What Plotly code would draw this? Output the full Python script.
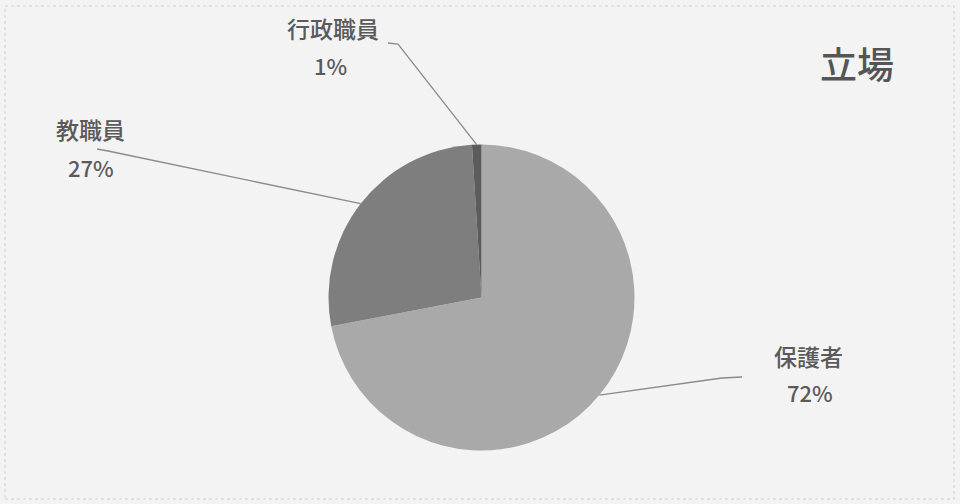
import math
import plotly.graph_objects as go

labels = ["保護者", "教職員", "行政職員"]
values = [72, 27, 1]
colors = ["#a9a9a9", "#7e7e7e", "#5c5c5c"]
title_text = "立場"

W, H = 960, 504
cx, cy, r = 481.5, 297.5, 153.0

def px(x):
    return x / W

def py(y):
    return 1 - y / H

fig = go.Figure(go.Pie(
    labels=labels,
    values=values,
    sort=False,
    direction="clockwise",
    rotation=0,
    marker=dict(colors=colors, line=dict(width=0)),
    textinfo="none",
    hoverinfo="label+percent",
    showlegend=False,
    domain=dict(x=[px(cx - r), px(cx + r)], y=[py(cy + r), py(cy - r)]),
))

# label text positions and leader line outer points (layout)
label_pos = {
    "保護者": ((808, 356), (810, 392), [(742, 377), (722, 378)]),
    "教職員": ((90, 129), (91, 167), [(97, 149), (108, 151)]),
    "行政職員": ((333, 28), (330, 65), [(388, 43), (398, 44)]),
}

total = sum(values)
cum = 0.0
shapes = []
annotations = []
font_col = "#5a5a5a"
for lab, v in zip(labels, values):
    mid = (cum + v / 2) / total * 2 * math.pi
    cum += v
    ix = cx + r * math.sin(mid)
    iy = cy - r * math.cos(mid)
    (lx, ly), (vx, vy), pts = label_pos[lab]
    path_pts = pts + [(ix, iy)]
    d = "M " + " L ".join(f"{px(x):.5f},{py(y):.5f}" for x, y in path_pts)
    shapes.append(dict(type="path", xref="paper", yref="paper", path=d,
                       line=dict(color="#8a8a8a", width=1.3)))
    pct = round(v / total * 100)
    annotations.append(dict(x=px(lx), y=py(ly), xref="paper", yref="paper",
                            text=lab, showarrow=False, xanchor="center", yanchor="middle",
                            font=dict(size=23, color=font_col, family="Noto Sans CJK JP", weight=500)))
    annotations.append(dict(x=px(vx), y=py(vy), xref="paper", yref="paper",
                            text=f"{pct}%", showarrow=False, xanchor="center", yanchor="middle",
                            font=dict(size=22, color=font_col, family="Noto Sans CJK JP", weight=500)))

annotations.append(dict(x=px(857), y=py(63), xref="paper", yref="paper",
                        text=title_text, showarrow=False, xanchor="center", yanchor="middle",
                        font=dict(size=37, color="#555555", family="Noto Sans CJK JP", weight=500)))

shapes.append(dict(type="rect", xref="paper", yref="paper",
                   x0=px(5), x1=px(954), y0=py(499), y1=py(6),
                   line=dict(color="#cfcfcf", width=1, dash="dot"), layer="below"))

fig.update_layout(
    width=W, height=H,
    margin=dict(l=0, r=0, t=0, b=0),
    paper_bgcolor="#f3f3f3",
    plot_bgcolor="#f3f3f3",
    shapes=shapes,
    annotations=annotations,
    font=dict(family="Noto Sans CJK JP"),
)

fig.write_html("out.html")
